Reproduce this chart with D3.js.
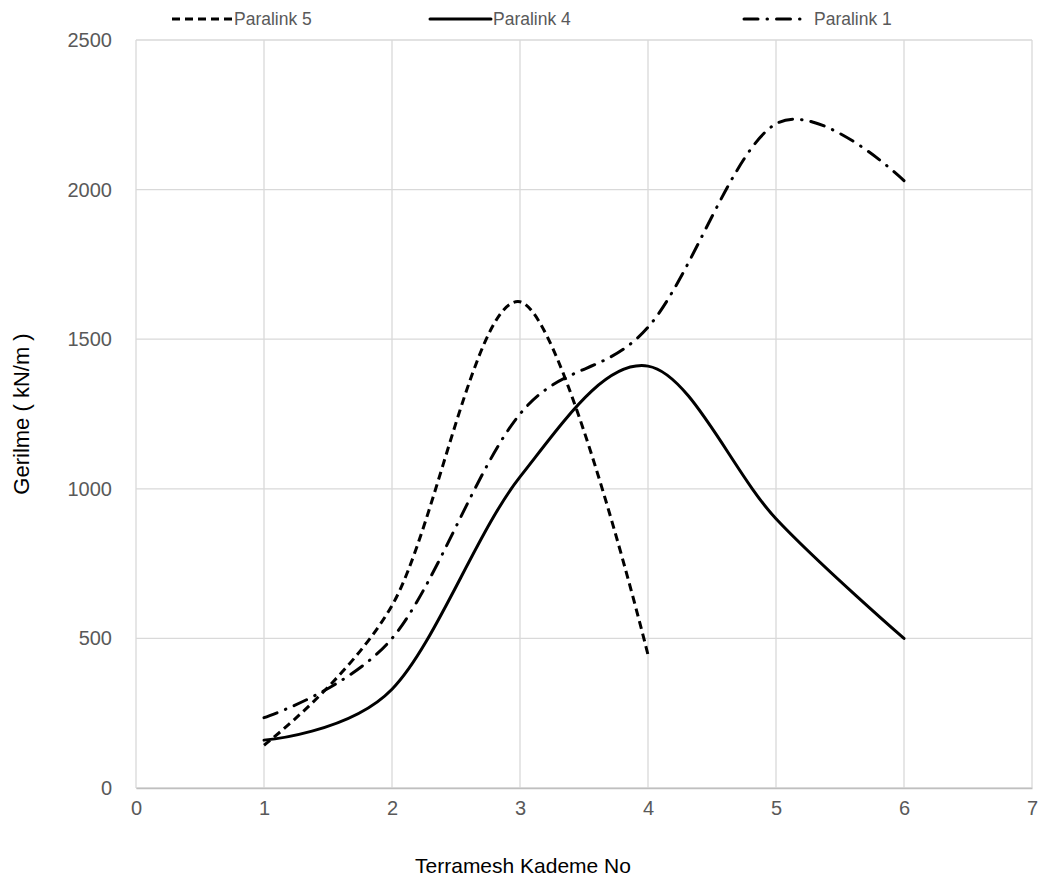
<!DOCTYPE html>
<html><head><meta charset="utf-8">
<script src="https://cdn.jsdelivr.net/npm/d3@7"></script>
<style>body{margin:0;background:#fff}svg{display:block}text{font-family:"Liberation Sans",Arial,sans-serif}</style>
</head><body>
<svg id="c" width="1047" height="887"></svg>
<script>
const xValues = [1, 2, 3, 4, 5, 6];
const paralink5 = [143, 610, 1625, 445];
const paralink4 = [160, 330, 1040, 1410, 900, 500];
const paralink1 = [235, 500, 1250, 1540, 2220, 2030];
const xTicks = [0, 1, 2, 3, 4, 5, 6, 7];
const yTicks = [0, 500, 1000, 1500, 2000, 2500];
const seriesNames = ["Paralink 5", "Paralink 4", "Paralink 1"];

const svg = d3.select("#c");
const m = {l: 136, r: 1032, t: 40, b: 788};
const x = d3.scaleLinear().domain([0, 7]).range([m.l, m.r]);
const y = d3.scaleLinear().domain([0, 2500]).range([m.b, m.t]);

// gridlines
svg.append("g").selectAll("line.v").data(xTicks).join("line")
  .attr("x1", d => x(d)).attr("x2", d => x(d)).attr("y1", m.t).attr("y2", m.b)
  .attr("stroke", "#d9d9d9").attr("stroke-width", 1.3);
svg.append("g").selectAll("line.h").data(yTicks).join("line")
  .attr("x1", m.l).attr("x2", m.r).attr("y1", d => y(d)).attr("y2", d => y(d))
  .attr("stroke", "#d9d9d9").attr("stroke-width", 1.3);

// axes
const xAxis = svg.append("g").attr("transform", `translate(0,${m.b})`)
  .call(d3.axisBottom(x).tickValues(xTicks).tickFormat(d3.format("d")).tickSize(0).tickPadding(13));
xAxis.select(".domain").attr("stroke", "#bfbfbf").attr("stroke-width", 1.3);
xAxis.selectAll("text").attr("font-size", 20).attr("fill", "#595959").attr("font-family", "Liberation Sans, Arial, sans-serif");

const yAxis = svg.append("g").attr("transform", `translate(${m.l},0)`)
  .call(d3.axisLeft(y).tickValues(yTicks).tickFormat(d3.format("d")).tickSize(0).tickPadding(24));
yAxis.select(".domain").remove();
yAxis.selectAll("text").attr("font-size", 20).attr("fill", "#595959").attr("font-family", "Liberation Sans, Arial, sans-serif");

// titles
svg.append("text").attr("x", 523).attr("y", 873).attr("text-anchor", "middle")
  .attr("font-size", 21).attr("fill", "#000").text("Terramesh Kademe No");
svg.append("text").attr("transform", "translate(29,414) rotate(-90)").attr("text-anchor", "middle")
  .attr("font-size", 22).attr("fill", "#000").text("Gerilme ( kN/m )");

const styles = [
  {dash: "8,5", cap: "butt"},
  {dash: null, cap: "round"},
  {dash: "14,9,0.5,9", cap: "round"}
];
const data = [paralink5, paralink4, paralink1];
const line = d3.line().x((d, i) => x(xValues[i])).y(d => y(d)).curve(d3.curveCatmullRom.alpha(0));

const g = svg.append("g");
data.forEach((s, i) => {
  g.append("path").attr("d", line(s)).attr("fill", "none").attr("stroke", "#000")
    .attr("stroke-width", 3).attr("stroke-linecap", styles[i].cap)
    .attr("stroke-dasharray", styles[i].dash);
});

// legend
const leg = [{x1: 172, x2: 232, tx: 234}, {x1: 430, x2: 491, tx: 493}, {x1: 744, x2: 800, tx: 814}];
leg.forEach((L, i) => {
  svg.append("line").attr("x1", L.x1).attr("x2", L.x2).attr("y1", 19).attr("y2", 19)
    .attr("stroke", "#000").attr("stroke-width", 3).attr("stroke-linecap", styles[i].cap)
    .attr("stroke-dasharray", styles[i].dash);
  svg.append("text").attr("x", L.tx).attr("y", 25).attr("font-size", 17.5).attr("fill", "#595959").text(seriesNames[i]);
});
</script>
</body></html>
